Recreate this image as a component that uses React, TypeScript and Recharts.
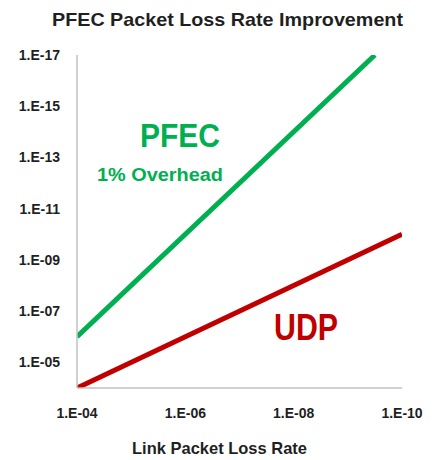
import React from 'react';
import { LineChart, Line, XAxis, YAxis } from 'recharts';

// exponents: 1.E-04 -> 4 etc.
const linkLossTicks = [4, 6, 8, 10];
const appLossTicks = [5, 7, 9, 11, 13, 15, 17];

const pfecLinkExp = [4, 9.5];
const pfecAppExp = [6, 17];
const udpLinkExp = [4, 10];
const udpAppExp = [4, 10];

const pfecData = pfecLinkExp.map((x, i) => ({ x, y: pfecAppExp[i] }));
const udpData = udpLinkExp.map((x, i) => ({ x, y: udpAppExp[i] }));

const fmtExp = (v: number) => `1.E-${String(v).padStart(2, '0')}`;

const FONT = '"Liberation Sans", Arial, sans-serif';
const GREEN = '#00b050';
const RED = '#c00000';
const INK = '#1f1f1f';

const tickStyle = { fontSize: 14, fontWeight: 700, fill: INK, fontFamily: FONT };

export default function App() {
  return (
    <div style={{ position: 'absolute', left: 0, top: 0, width: 436, height: 460, background: '#fff' }}>
      <LineChart width={436} height={460} margin={{ top: 55, right: 34, left: 0, bottom: 32 }}>
        <XAxis
          type="number"
          dataKey="x"
          domain={[4, 10]}
          ticks={linkLossTicks}
          tickFormatter={fmtExp}
          height={40}
          tickLine={false}
          tickSize={6}
          tickMargin={14}
          stroke="#c0c0c0"
          strokeWidth={1.5}
          tick={tickStyle}
          allowDataOverflow
        />
        <YAxis
          type="number"
          dataKey="y"
          domain={[4, 17]}
          ticks={appLossTicks}
          tickFormatter={fmtExp}
          width={77}
          tickLine={false}
          tickSize={6}
          tickMargin={11}
          stroke="#c0c0c0"
          strokeWidth={1.5}
          tick={tickStyle}
          allowDataOverflow
        />
        <Line
          data={pfecData}
          dataKey="y"
          type="linear"
          stroke={GREEN}
          strokeWidth={5}
          dot={false}
          activeDot={false}
          isAnimationActive={false}
        />
        <Line
          data={udpData}
          dataKey="y"
          type="linear"
          stroke={RED}
          strokeWidth={5}
          dot={false}
          activeDot={false}
          isAnimationActive={false}
        />
      </LineChart>
      <svg
        width={436}
        height={460}
        style={{ position: 'absolute', left: 0, top: 0, pointerEvents: 'none' }}
        fontFamily={FONT}
        fontWeight={700}
      >
        <text x={52} y={26} fontSize={19} fill={INK} textLength={351} lengthAdjust="spacingAndGlyphs">
          PFEC Packet Loss Rate Improvement
        </text>
        <text x={140} y={147} fontSize={33} fill={GREEN} textLength={80} lengthAdjust="spacingAndGlyphs">
          PFEC
        </text>
        <text x={97} y={181} fontSize={18} fill={GREEN} textLength={126} lengthAdjust="spacingAndGlyphs">
          1% Overhead
        </text>
        <text x={274} y={340} fontSize={36} fill={RED} textLength={64} lengthAdjust="spacingAndGlyphs">
          UDP
        </text>
        <text x={132} y={454} fontSize={17} fill={INK} textLength={175} lengthAdjust="spacingAndGlyphs">
          Link Packet Loss Rate
        </text>
      </svg>
    </div>
  );
}
